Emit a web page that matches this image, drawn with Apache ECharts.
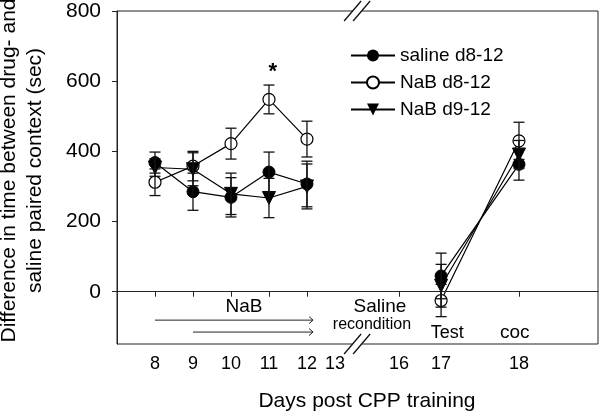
<!DOCTYPE html>
<html><head><meta charset="utf-8">
<script src="https://cdn.jsdelivr.net/npm/echarts@6/dist/echarts.min.js"></script>
<style>html,body{margin:0;padding:0;background:#fff}#c{width:600px;height:417px}</style>
</head><body><div id="c"></div>
<script>
// ---- data ----
const days = [8, 9, 10, 11, 12, 17, 18];
const tickLabels = ['8', '9', '10', '11', '12', '13', '16', '17', '18'];
// axis coordinate of each tick label (the axis is broken between 13 and 16)
const tickPos = [8, 9, 10, 11, 12, 12.74, 14.42, 15.53, 17.58];
const salineMean = [368, 285, 269, 341, 307, 45, 363];
const salineErr  = [30, 53, 56, 57, 65, 65, 45];
const nab812Mean = [312, 358, 422, 548, 435, -25, 430];
const nab812Err  = [38, 42, 44, 41, 51, 46, 53];
const nab912Mean = [354, 349, 279, 267, 300, 17, 391];
const nab912Err  = [25, 47, 59, 56, 64, 61, 40];
const yTicks = [0, 200, 400, 600, 800];
const arrowStartDays = [8, 9];
const arrowEndDay = 12.16;
const arrowLevels = [-81, -115];

const FONT = 'Liberation Sans, Arial, Helvetica, sans-serif';
const posOf = d => tickPos[tickLabels.indexOf(String(d))];

function lineData(mean) {
  const out = [];
  days.forEach((d, i) => {
    if (d === 17) out.push([(posOf(12) + posOf(17)) / 2, '-']);
    out.push([posOf(d), mean[i]]);
  });
  return out;
}
function errData(mean, err) {
  return days.map((d, i) => [posOf(d), mean[i] - err[i], mean[i] + err[i]]);
}
function errSeries(mean, err) {
  return {
    type: 'custom', silent: true, z: 5,
    encode: { x: 0, y: [1, 2] },
    data: errData(mean, err),
    renderItem: (params, api) => {
      const x = api.value(0), lo = api.value(1), hi = api.value(2);
      const a = api.coord([x, lo]), b = api.coord([x, hi]);
      const w = 5.5, st = { stroke: '#111', lineWidth: 1.3 };
      return { type: 'group', children: [
        { type: 'line', shape: { x1: a[0], y1: a[1], x2: b[0], y2: b[1] }, style: st },
        { type: 'line', shape: { x1: a[0] - w, y1: a[1], x2: a[0] + w, y2: a[1] }, style: st },
        { type: 'line', shape: { x1: b[0] - w, y1: b[1], x2: b[0] + w, y2: b[1] }, style: st }
      ]};
    }
  };
}

const chart = echarts.init(document.getElementById('c'));
const option = {
  animation: false,
  backgroundColor: '#fff',
  grid: { left: 117, right: 2, top: 11, bottom: 68, show: true, borderColor: '#222', borderWidth: 1, containLabel: false },
  legend: {
    data: ['saline d8-12', 'NaB d8-12', 'NaB d9-12'],
    orient: 'vertical', left: 350, top: 46, padding: 0,
    itemWidth: 44, itemHeight: 15, itemGap: 8,
    textStyle: { fontSize: 19, color: '#000', fontFamily: FONT }
  },
  xAxis: {
    type: 'value', min: 7, max: 19.66,
    splitLine: { show: false },
    axisLine: { lineStyle: { color: '#222', width: 1 } },
    axisTick: { show: true, length: 5, lineStyle: { color: '#222' },
      customValues: tickPos.filter((p, i) => tickLabels[i] !== '13') },
    axisLabel: { customValues: tickPos, margin: 11, fontSize: 18, color: '#000', fontFamily: FONT,
      formatter: v => { let k = 0, best = 1e9; tickPos.forEach((p, i) => { if (Math.abs(p - v) < best) { best = Math.abs(p - v); k = i; } }); return tickLabels[k]; } },
    name: 'Days post CPP training', nameLocation: 'middle', nameGap: 47,
    nameTextStyle: { fontSize: 21, color: '#000', fontFamily: FONT, padding: [0, 0, 0, 19] }
  },
  yAxis: {
    type: 'value', min: -149, max: 800,
    splitLine: { show: false },
    axisLine: { show: true, lineStyle: { color: '#222', width: 1 } },
    axisTick: { show: true, length: 5, lineStyle: { color: '#222' }, customValues: yTicks },
    axisLabel: { customValues: yTicks, margin: 16, fontSize: 21, color: '#000', fontFamily: FONT }
  },
  series: [
    {
      name: 'NaB d8-12', type: 'line', data: lineData(nab812Mean), z: 2,
      symbol: 'circle', symbolSize: 12, showAllSymbol: true,
      itemStyle: { color: '#fff', borderColor: '#000', borderWidth: 1.2 },
      lineStyle: { color: '#000', width: 1.2 },
      markLine: {
        silent: true, symbol: 'none', label: { show: false },
        lineStyle: { color: '#222', width: 1, type: 'solid' },
        data: [{ yAxis: 0 }]
      }
    },
    {
      name: 'NaB d9-12', type: 'line', data: lineData(nab912Mean), z: 3,
      symbol: 'triangle', symbolRotate: 180, symbolSize: 13, showAllSymbol: true,
      itemStyle: { color: '#000', borderColor: '#000' },
      lineStyle: { color: '#000', width: 1.2 }
    },
    {
      name: 'saline d8-12', type: 'line', data: lineData(salineMean), z: 4,
      symbol: 'circle', symbolSize: 12, showAllSymbol: true,
      itemStyle: { color: '#000', borderColor: '#000' },
      lineStyle: { color: '#000', width: 1.2 }
    },
    errSeries(nab812Mean, nab812Err),
    errSeries(nab912Mean, nab912Err),
    errSeries(salineMean, salineErr),
    {
      type: 'custom', silent: true, z: 5,
      encode: { x: [0, 1], y: 2 },
      data: arrowStartDays.map((d, i) => [d, arrowEndDay, arrowLevels[i]]),
      renderItem: (params, api) => {
        const a = api.coord([api.value(0), api.value(2)]);
        const b = api.coord([api.value(1), api.value(2)]);
        const st = { stroke: '#222', lineWidth: 1, fill: null };
        return { type: 'group', children: [
          { type: 'line', shape: { x1: a[0], y1: a[1], x2: b[0], y2: b[1] }, style: st },
          { type: 'polyline', shape: { points: [[b[0] - 4, b[1] - 3.5], [b[0], b[1]], [b[0] - 4, b[1] + 3.5]] }, style: st }
        ]};
      }
    }
  ]
};
chart.setOption(option);

// ---- annotations (placed through the axes) ----
const P = (x, y) => chart.convertToPixel({ gridIndex: 0 }, [x, y]);
const notes = [
  { t: '*', x: 11.1, y: 627, s: 22, w: 'bold' },
  { t: 'NaB', x: 10.34, y: -42, s: 19 },
  { t: 'Saline', x: 13.92, y: -42, s: 19 },
  { t: 'recondition', x: 13.71, y: -93, s: 16 },
  { t: 'Test', x: 15.69, y: -118, s: 18 },
  { t: 'coc', x: 17.47, y: -118, s: 19 }
];
const g = [];
notes.forEach(n => {
  const p = P(n.x, n.y);
  g.push({ type: 'text', x: p[0], y: p[1], z: 10, style: {
    text: n.t, fill: '#000', font: (n.w || 'normal') + ' ' + n.s + 'px ' + FONT,
    textAlign: 'center', textVerticalAlign: 'middle' } });
});
// axis break marks
const breakX = P(13.32, 0)[0];
const yTop = P(0, 800)[1], yBot = P(0, -149)[1];
[yTop, yBot].forEach(cy => {
  g.push({ type: 'polygon', z: 11, shape: { points: [[breakX - 13, cy + 10], [breakX + 4, cy - 10], [breakX + 13, cy - 10], [breakX - 4, cy + 10]] }, style: { fill: '#fff' } });
  g.push({ type: 'line', z: 12, shape: { x1: breakX - 13, y1: cy + 10, x2: breakX + 4, y2: cy - 10 }, style: { stroke: '#111', lineWidth: 1.3 } });
  g.push({ type: 'line', z: 12, shape: { x1: breakX - 4, y1: cy + 10, x2: breakX + 13, y2: cy - 10 }, style: { stroke: '#111', lineWidth: 1.3 } });
});
// y axis title
const gridMid = (yTop + yBot) / 2 - 7;
g.push({ type: 'text', x: 22, y: gridMid, rotation: Math.PI / 2, z: 10, style: {
  text: 'Difference in time between drug- and\nsaline paired context (sec)',
  fill: '#000', font: '21px ' + FONT, lineHeight: 26, textAlign: 'center', textVerticalAlign: 'middle' } });
chart.setOption({ graphic: g });
</script>
</body></html>
